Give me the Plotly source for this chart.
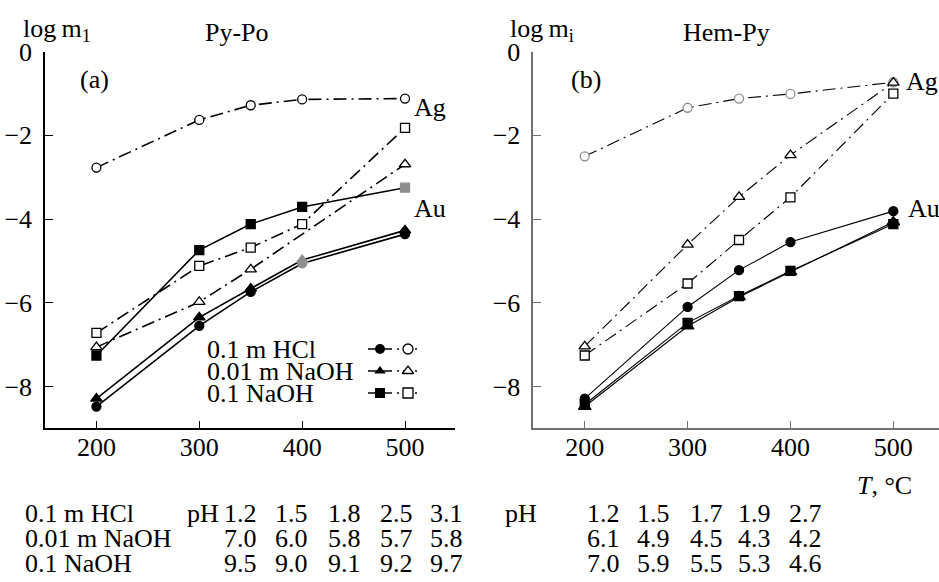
import plotly.graph_objects as go

W, H = 939, 582
FONT = "Liberation Serif, Times New Roman, serif"
FS = 26

# ---------------- data ----------------
T = [200, 300, 350, 400, 500]

# Panel (a) Py-Po
a_ag_hcl = [-2.77, -1.63, -1.28, -1.14, -1.12]
a_ag_naoh001 = [-7.06, -5.98, -5.20, None, -2.69]
a_ag_naoh01 = [-6.72, -5.12, -4.68, -4.12, -1.82]
a_au_hcl = [-8.48, -6.55, -5.74, -5.06, -4.36]
a_au_naoh001 = [-8.29, -6.35, -5.66, -4.98, -4.27]
a_au_naoh01 = [-7.26, -4.74, -4.12, -3.71, -3.25]

# Panel (b) Hem-Py
b_ag_hcl = [-2.50, -1.34, -1.12, -1.01, -0.73]
b_ag_naoh001 = [-7.04, -4.61, -3.47, -2.47, -0.74]
b_ag_naoh01 = [-7.26, -5.54, -4.50, -3.48, -1.00]
b_au_hcl = [-8.29, -6.10, -5.22, -4.55, -3.81]
b_au_naoh001 = [-8.48, -6.56, -5.86, -5.26, -4.07]
b_au_naoh01 = [-8.43, -6.48, -5.84, -5.24, -4.12]

solutions = ["0.1 m HCl", "0.01 m NaOH", "0.1 NaOH"]
ph_a = [[1.2, 1.5, 1.8, 2.5, 3.1], [7.0, 6.0, 5.8, 5.7, 5.8], [9.5, 9.0, 9.1, 9.2, 9.7]]
ph_b = [[1.2, 1.5, 1.7, 1.9, 2.7], [6.1, 4.9, 4.5, 4.3, 4.2], [7.0, 5.9, 5.5, 5.3, 4.6]]

x_ticks = [200, 300, 400, 500]
y_ticks = [0, -2, -4, -6, -8]
y_ticktext = ["0", "\u22122", "\u22124", "\u22126", "\u22128"]

GRAY = "#8e8e8e"
DASHDOT = "13px,5px,2px,5px"


def px(x):
    return x / W


def py(y):
    return 1 - y / H


fig = go.Figure()


def add(xa, ya, y, symbol, fill, edge, dash, lw, size=9, lcolor="black"):
    fig.add_trace(go.Scatter(
        x=T, y=y, xaxis=xa, yaxis=ya, mode="lines+markers", connectgaps=True,
        line=dict(color=lcolor, width=lw, dash=dash),
        marker=dict(symbol=symbol, size=size, color=fill,
                    line=dict(color=edge, width=1.3)),
        showlegend=False, hoverinfo="skip"))


# panel a
add("x", "y", a_au_hcl, "circle", ["black"] * 3 + [GRAY, "black"], ["black"] * 3 + [GRAY, "black"], "solid", 1.6)
add("x", "y", a_au_naoh001, "triangle-up", ["black"] * 3 + [GRAY, "black"], ["black"] * 3 + [GRAY, "black"], "solid", 1.6, 10)
add("x", "y", a_au_naoh01, "square", ["black"] * 4 + [GRAY], ["black"] * 4 + [GRAY], "solid", 1.6)
add("x", "y", a_ag_hcl, "circle", "white", "black", DASHDOT, 1.6)
add("x", "y", a_ag_naoh001, "triangle-up", "white", "black", DASHDOT, 1.6, 10)
add("x", "y", a_ag_naoh01, "square", "white", "black", DASHDOT, 1.6)

# panel b
add("x2", "y2", b_au_naoh001, "triangle-up", "black", "black", "solid", 1.1, 11)
add("x2", "y2", b_au_naoh01, "square", "black", "black", "solid", 1.1)
add("x2", "y2", b_au_hcl, "circle", "black", "black", "solid", 1.1)
add("x2", "y2", b_ag_hcl, "circle", "white", GRAY, DASHDOT, 1.1)
add("x2", "y2", b_ag_naoh01, "square", "white", "black", DASHDOT, 1.1)
add("x2", "y2", b_ag_naoh001, "triangle-up", "white", "black", DASHDOT, 1.1, 10)

# legend glyphs (independent full-page axis in pixel units)
leg_y = [349, 371, 393]
leg_sym = ["circle", "triangle-up", "square"]
for yy, sym in zip(leg_y, leg_sym):
    fig.add_trace(go.Scatter(x=[368, 392], y=[yy, yy], xaxis="x3", yaxis="y3", mode="lines",
                             line=dict(color="black", width=1.5), showlegend=False, hoverinfo="skip"))
    fig.add_trace(go.Scatter(x=[380], y=[yy], xaxis="x3", yaxis="y3", mode="markers",
                             marker=dict(symbol=sym, size=10, color="black"), showlegend=False, hoverinfo="skip"))
    fig.add_trace(go.Scatter(x=[397, 420], y=[yy, yy], xaxis="x3", yaxis="y3", mode="lines",
                             line=dict(color="black", width=1.3, dash="2px,4px"), showlegend=False, hoverinfo="skip"))
    fig.add_trace(go.Scatter(x=[408], y=[yy], xaxis="x3", yaxis="y3", mode="markers",
                             marker=dict(symbol=sym, size=10, color="white", line=dict(color="black", width=1.3)),
                             showlegend=False, hoverinfo="skip"))

ann = []


def text(x, y, s, xanchor="left", yanchor="middle", size=FS):
    ann.append(dict(x=px(x), y=py(y), xref="paper", yref="paper", text=s, showarrow=False,
                    xanchor=xanchor, yanchor=yanchor, font=dict(family=FONT, size=size, color="black")))


# panel labels
text(21, 30, "log\u2009m<sub>1</sub>")
text(237, 32, "Py-Po", "center")
text(508, 30, "log\u2009m<sub>i</sub>")
text(726, 32, "Hem-Py", "center")
text(78, 80, "(a)")
text(569, 80, "(b)")
text(412, 107, "Ag")
text(412, 208, "Au")
text(904, 82, "Ag")
text(906, 208, "Au")
text(914, 485, "<i>T</i>, °C", "right")

# legend text
for yy, s in zip(leg_y, solutions):
    text(205, yy, s)

# pH table
row_y = [513, 538, 563]
cols_a = [241, 291, 344, 396, 446]
cols_b = [603, 653, 706, 754, 805]
text(185, row_y[0], "pH")
text(503, row_y[0], "pH")
for r, (s, yy) in enumerate(zip(solutions, row_y)):
    text(23, yy, s)
    for xc, v in zip(cols_a, ph_a[r]):
        text(xc, yy, f"{v:.1f}", "center")
    for xc, v in zip(cols_b, ph_b[r]):
        text(xc, yy, f"{v:.1f}", "center")

ydom = [py(428.3), py(51.7)]
axis_common = dict(showgrid=False, zeroline=False, showline=True, ticks="inside", ticklen=8,
                   automargin=False, tickfont=dict(family=FONT, size=FS, color="black"))

fig.update_layout(
    template="none",
    width=W, height=H, margin=dict(l=0, r=0, t=0, b=0, pad=0),
    paper_bgcolor="white", plot_bgcolor="rgba(0,0,0,0)",
    annotations=ann,
    xaxis=dict(domain=[px(45), px(455)], range=[150, 548.6], tickvals=x_ticks, anchor="y",
               linecolor="black", tickcolor="black", linewidth=1.5, ticklabelstandoff=-5, **axis_common),
    yaxis=dict(domain=ydom, range=[-9, 0], tickvals=y_ticks, ticktext=y_ticktext, anchor="x",
               linecolor="black", tickcolor="black", linewidth=1.5, ticklabelstandoff=6, **axis_common),
    xaxis2=dict(domain=[px(533.3), 1.0], range=[150, 544.4], tickvals=x_ticks, anchor="y2",
                linecolor="#707070", tickcolor="#707070", linewidth=1.5, ticklabelstandoff=-5, **axis_common),
    yaxis2=dict(domain=ydom, range=[-9, 0], tickvals=y_ticks, ticktext=y_ticktext, anchor="x2",
                linecolor="#707070", tickcolor="#707070", linewidth=1.5, ticklabelstandoff=6, **axis_common),
    xaxis3=dict(domain=[0, 1], range=[0, W], visible=False, anchor="y3", automargin=False),
    yaxis3=dict(domain=[0, 1], range=[H, 0], visible=False, anchor="x3", automargin=False),
)

fig.write_html("out.html")
